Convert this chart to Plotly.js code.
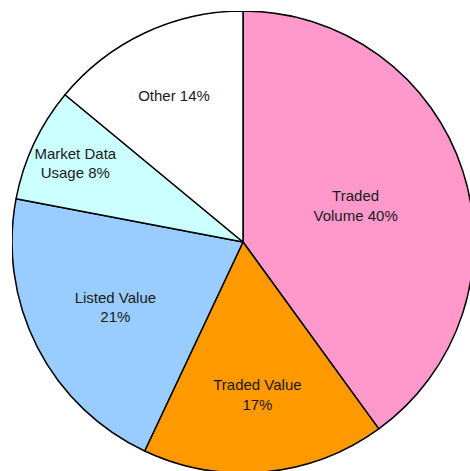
<!DOCTYPE html>
<html>
<head>
<meta charset="utf-8">
<script src="https://cdn.plot.ly/plotly-3.0.1.min.js"></script>
<style>
html,body{margin:0;padding:0;overflow:hidden;background:#fff;width:470px;height:471px;}
#chart{position:absolute;left:12px;top:11px;width:462px;height:462px;}
</style>
</head>
<body>
<div id="chart"></div>
<script>
const categories = ["Traded Volume", "Traded Value", "Listed Value", "Market Data Usage", "Other"];
const values = [40, 17, 21, 8, 14];
const labelTexts = ["Traded<br>Volume 40%", "Traded Value<br>17%", "Listed Value<br>21%", "Market Data<br>Usage 8%", "Other 14%"];
const colors = ["#FF99CC", "#FF9900", "#99CCFF", "#CCFFFF", "#FFFFFF"];

Plotly.newPlot("chart", [{
  type: "pie",
  labels: categories,
  values: values,
  text: labelTexts,
  textinfo: "text",
  textposition: "inside",
  insidetextorientation: "horizontal",
  sort: false,
  direction: "clockwise",
  rotation: 0,
  hole: 0,
  marker: {colors: colors, line: {color: "#000", width: 1.5}},
  insidetextfont: {family: "Liberation Sans, Arial, sans-serif", size: 15, color: "#1a1a1a"},
  domain: {x: [0, 1], y: [0, 1]}
}], {
  width: 462, height: 462,
  margin: {l: 0, r: 0, t: 0, b: 0},
  showlegend: false,
  paper_bgcolor: "rgba(0,0,0,0)"
}, {displayModeBar: false, staticPlot: true});
</script>
</body>
</html>
